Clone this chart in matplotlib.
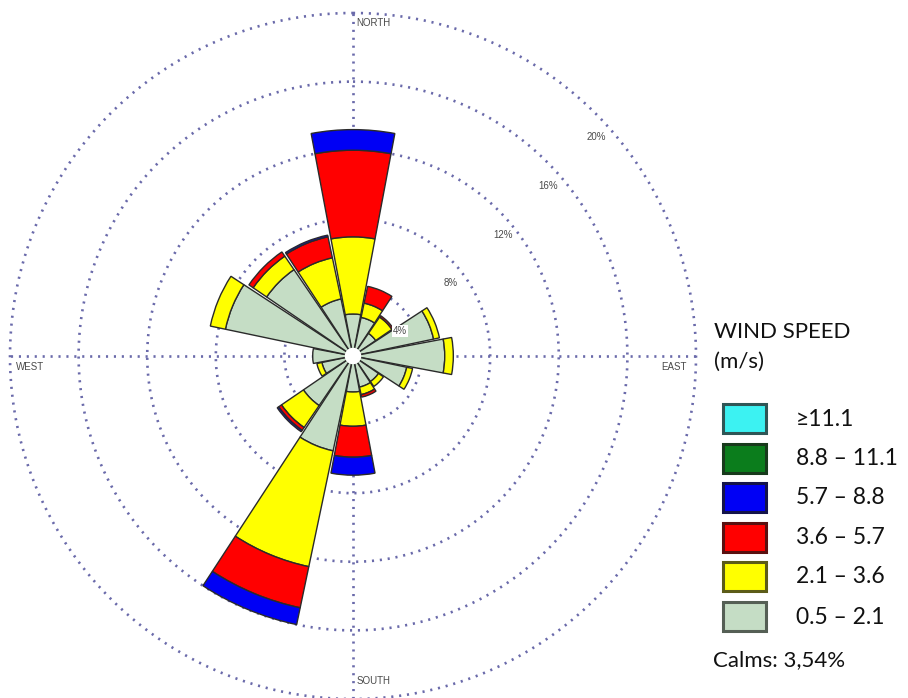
import numpy as np
import matplotlib
matplotlib.use("Agg")
import matplotlib.pyplot as plt
from matplotlib.patches import Rectangle

W_PX, H_PX = 908, 698

# 16 compass sectors, clockwise from north
directions = ["N", "NNE", "NE", "ENE", "E", "ESE", "SE", "SSE",
              "S", "SSW", "SW", "WSW", "W", "WNW", "NW", "NNW"]

# frequency (%) per speed class and sector
speed_05_21 = [2.45, 2.30, 1.60, 4.80, 5.35, 3.20, 1.80, 1.85,
               2.10, 5.65, 3.50, 1.85, 2.35, 7.60, 6.10, 3.40]
speed_21_36 = [4.50, 0.85, 1.15, 0.35, 0.50, 0.35, 0.35, 0.45,
               2.00, 6.90, 1.55, 0.30, 0.00, 0.90, 0.95, 2.45]
speed_36_57 = [5.05, 1.00, 0.10, 0.00, 0.00, 0.00, 0.00, 0.15,
               1.80, 2.45, 0.20, 0.00, 0.00, 0.00, 0.30, 1.25]
speed_57_88 = [1.20, 0.00, 0.00, 0.00, 0.00, 0.00, 0.00, 0.00,
               1.05, 1.00, 0.10, 0.00, 0.00, 0.00, 0.00, 0.10]
speed_88_111 = [0.0] * 16
speed_ge_111 = [0.0] * 16

class_labels = ["\u226511.1", "8.8 \u2013 11.1", "5.7 \u2013 8.8",
                "3.6 \u2013 5.7", "2.1 \u2013 3.6", "0.5 \u2013 2.1"]
class_colors = ["#3cf2f2", "#0b7d1c", "#0000f5", "#ff0000", "#ffff00", "#c5ddc5"]
class_edges = ["#2f5656", "#183a1c", "#14144a", "#5a1010", "#5c5c18", "#555f55"]

rings = [4, 8, 12, 16, 20]
ring_labels = ["4%", "8%", "12%", "16%", "20%"]
calms = "Calms: 3,54%"

GRID = "#6a6aaa"
TXT = "#4a4a4a"

fig = plt.figure(figsize=(W_PX / 100, H_PX / 100), dpi=100)
fig.patch.set_facecolor("white")


def fx(px):
    return px / W_PX


def fy(py):
    return 1 - py / H_PX


# polar axes: centre at (353, 356) px, 20% ring at 343 px
cx, cy, R = 353, 356, 343
ax = fig.add_axes([fx(cx - R), fy(cy + R), 2 * R / W_PX, 2 * R / H_PX],
                  projection="polar")
ax.set_theta_zero_location("N")
ax.set_theta_direction(-1)
ax.set_ylim(0, 20)
ax.set_axis_off()

# dotted grid
tt = np.linspace(0, 2 * np.pi, 721)
for r in rings:
    ax.plot(tt, np.full_like(tt, r), color=GRID, lw=1.9,
            ls=(0, (0.8, 2.2)), zorder=1, clip_on=False)
for a in [0, 90, 180, 270]:
    ax.plot([np.radians(a)] * 2, [0, 20], color=GRID, lw=1.9,
            ls=(0, (0.8, 2.2)), zorder=1, clip_on=False)

# stacked sectors, calmest class first
theta = np.radians(np.arange(16) * 22.5)
width = np.radians(21.3)
stack = [(speed_05_21, 5), (speed_21_36, 4), (speed_36_57, 3),
         (speed_57_88, 2), (speed_88_111, 1), (speed_ge_111, 0)]
bottom = np.zeros(16)
for vals, ci in stack:
    vals = np.array(vals)
    m = vals > 0
    if m.any():
        ax.bar(theta[m], vals[m], width=width, bottom=bottom[m],
               color=class_colors[ci], edgecolor="#2a2a2a", linewidth=1.0,
               zorder=3)
    bottom += vals

# calm hole
ax.bar(0, 0.48, width=2 * np.pi, bottom=0, color="white",
       edgecolor="none", zorder=4)

# ring percentages (compass angle, radius)
ring_pos = [(62, 3.1), (53, 7.1), (51, 11.25), (49, 15.1), (48, 19.1)]
for (ang, r), lab in zip(ring_pos, ring_labels):
    ax.text(np.radians(ang), r, lab, fontsize=7, color=TXT,
            family="Liberation Sans", ha="center", va="center", zorder=6,
            bbox=dict(boxstyle="square,pad=0.1", fc="white", ec="none")
            if lab == "4%" else None)

# compass names
lab_kw = dict(fontsize=7, color=TXT, family="Liberation Sans", va="center")
fig.text(fx(356), fy(23.5), "NORTH", ha="left", **lab_kw)
fig.text(fx(16), fy(367), "WEST", ha="left", **lab_kw)
fig.text(fx(687), fy(367), "EAST", ha="right", **lab_kw)
fig.text(fx(357), fy(680.5), "SOUTH", ha="left", **lab_kw)

# legend
LEG_FONT = "Lato"
fig.text(fx(714), fy(332), "WIND SPEED", fontsize=16, family=LEG_FONT,
         color="#111111", ha="left", va="center")
fig.text(fx(714), fy(362), "(m/s)", fontsize=16, family=LEG_FONT,
         color="#111111", ha="left", va="center")
box_tops = [404, 443.5, 483, 522.5, 561.5, 602]
for top, lab, fc, ec in zip(box_tops, class_labels, class_colors, class_edges):
    fig.add_artist(Rectangle((fx(723), fy(top + 29)), 43 / W_PX, 29 / H_PX,
                             transform=fig.transFigure, fc=fc, ec=ec, lw=2.2))
    fig.text(fx(796), fy(top + 15), lab, fontsize=16.5, family=LEG_FONT,
             color="#111111", ha="left", va="center")
fig.text(fx(713), fy(660), calms, fontsize=16, family=LEG_FONT,
         color="#111111", ha="left", va="center")

fig.savefig("out.png", dpi=100)
